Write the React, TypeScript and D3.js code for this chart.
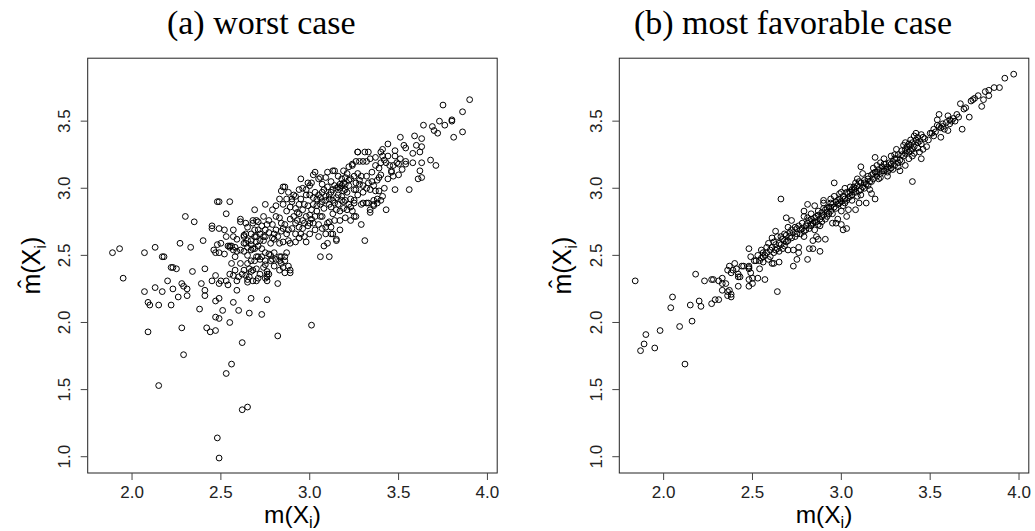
import React from "react";
import * as d3 from "d3";

// ---------- data ----------
const worstX_Y: [number, number][] = [
  [1.89,2.52],[1.93,2.55],[1.95,2.33],[2.07,2.52],[2.07,2.23],[2.09,2.15],[2.10,2.13],[2.09,1.93],[2.13,2.56],[2.13,2.26],
  [2.15,2.13],[2.17,2.23],[2.17,2.49],[2.18,2.49],[2.15,1.53],[2.20,2.31],[2.22,2.13],[2.22,2.41],[2.23,2.41],[2.23,2.25],
  [2.25,2.40],[2.26,2.19],[2.27,2.59],[2.28,1.96],[2.28,2.29],[2.29,1.76],[2.29,2.27],[2.30,2.79],[2.31,2.20],[2.31,2.25],
  [2.33,2.56],[2.34,2.38],[2.35,2.75],[2.38,2.10],[2.39,2.29],[2.40,2.61],[2.41,2.40],[2.41,2.24],[2.41,2.20],[2.42,1.96],
  [2.44,1.93],[2.45,2.31],[2.45,2.72],[2.45,2.70],[2.46,2.54],[2.47,2.16],[2.47,2.04],[2.47,1.94],[2.47,2.35],[2.48,1.14],
  [2.48,2.58],[2.48,2.90],[2.49,2.90],[2.49,2.70],[2.49,2.18],[2.49,2.03],[2.49,0.99],[2.49,2.52],[2.49,2.29],[2.51,2.09],
  [2.52,2.69],[2.53,2.31],[2.53,2.81],[2.53,1.62],[2.54,2.28],[2.55,2.00],[2.55,2.90],[2.56,1.69],[2.57,2.15],[2.57,2.69],
  [2.56,2.57],[2.56,2.44],[2.58,2.49],[2.59,2.24],[2.59,2.62],[2.60,2.34],[2.60,2.09],[2.61,2.77],[2.61,2.75],[2.62,1.85],
  [2.62,1.35],[2.65,1.37],[2.66,2.07],[2.67,2.18],[2.69,2.84],[2.73,2.06],[2.75,2.88],[2.76,2.17],[2.82,1.90],[2.82,2.29],
  [2.89,2.37],[2.95,3.07],[3.01,1.98],[3.06,2.49],[3.11,2.49],[3.15,2.61],[3.31,2.61],[3.29,2.73],[3.43,2.84],[3.48,2.99],
  [3.56,2.99],[3.75,3.62],[3.90,3.66],[3.86,3.57],[3.80,3.51],[3.80,3.50],[3.73,3.50],[3.69,3.46],[3.76,3.47],[3.64,3.47],
  [3.70,3.43],[3.72,3.41],[3.81,3.38],[3.86,3.42],[3.68,3.21],[3.71,3.17],[3.59,3.39],[3.63,3.37],[3.51,3.38],[3.44,3.33],
  [3.60,3.32],[3.53,3.32],[3.54,3.30],[3.63,3.31],[3.62,3.27],[3.58,3.26],[3.63,3.19],[3.58,3.19],[3.54,3.18],[3.50,3.18],
  [3.48,3.28],[3.48,3.24],[3.62,3.13],[3.61,3.07],[3.63,3.08],[3.31,3.27],[3.33,3.27],[3.27,3.27],[3.34,3.22],
  [3.03,3.12],[3.09,3.08],[3.10,3.12],[3.13,3.13],[3.14,3.13],[3.19,3.13],[3.24,3.17],[3.24,3.18],[3.28,3.20],[3.30,3.20],
  [3.32,3.20],[3.37,3.17],[3.39,3.15],[3.41,3.24],[3.42,3.21],[3.43,3.19],[3.45,3.17],[3.46,3.13],[3.46,3.12],[3.40,3.10],
  [3.39,3.08],[3.38,3.06],[3.35,3.12],[3.32,3.09],[3.29,3.09],[3.27,3.11],[3.25,3.09],[3.23,3.07],[3.21,3.11],[3.18,3.07],
  [3.16,3.09],[3.06,3.08],[3.05,3.07],[3.01,3.04],[3.00,3.02],[2.98,2.99],[2.98,2.95],[2.94,2.99],[2.91,2.95],[2.90,2.92],
  [2.87,2.92],[2.85,3.01],[2.86,3.01],[2.84,2.98],[2.83,2.92],[2.81,2.87],[2.79,2.84],[2.85,2.88],
  [3.07,2.97],[3.09,2.94],[3.11,2.95],[3.13,2.99],[3.15,3.00],[3.17,3.03],[3.19,3.04],[3.20,2.99],[3.21,2.97],[3.22,3.02],
  [3.25,2.99],[3.26,2.99],[3.28,3.03],[3.30,3.02],[3.32,3.00],[3.34,2.99],[3.36,3.02],[3.37,2.98],[3.39,2.98],[3.32,2.89],
  [3.33,2.89],[3.36,2.88],[3.34,2.84],[3.29,2.88],[3.25,2.89],[3.23,2.92],[3.22,2.88],[3.21,2.84],[3.19,2.85],[3.17,2.83],
  [3.15,2.84],[3.13,2.81],[3.11,2.88],[3.09,2.91],[3.07,2.90],[3.06,2.88],[3.04,2.87],[3.02,2.88],[3.01,2.84],[3.00,2.80],
  [2.98,2.79],[2.96,2.76],[2.94,2.81],[2.93,2.76],[2.92,2.74],[2.90,2.70],[2.88,2.69],[2.87,2.66],[2.85,2.70],[2.84,2.74],
  [2.83,2.78],[2.81,2.69],[2.80,2.66],[2.79,2.73],[2.77,2.76],[2.76,2.73],[2.75,2.69],[2.74,2.64],[2.72,2.66],[2.70,2.64],
  [2.69,2.69],[2.68,2.74],[2.67,2.66],[2.65,2.61],[2.64,2.66],[2.63,2.64],[2.63,2.59],[2.61,2.54],[2.59,2.53],[2.58,2.56],
  [2.63,2.53],[2.65,2.50],[2.67,2.54],[2.69,2.55],[2.71,2.57],[2.73,2.55],[2.75,2.52],[2.77,2.51],[2.78,2.46],[2.75,2.46],
  [2.74,2.41],[2.72,2.36],[2.70,2.40],[2.68,2.39],[2.66,2.34],[2.65,2.30],[2.68,2.31],[2.71,2.33],[2.76,2.34],[2.77,2.36],
  [2.80,2.42],[2.83,2.49],[2.86,2.46],[2.88,2.42],[2.84,2.44],[2.87,2.52],[2.89,2.59],[2.92,2.60],[2.94,2.63],[2.95,2.66],
  [2.97,2.64],[2.98,2.60],[3.00,2.66],[3.03,2.69],[3.05,2.73],[3.07,2.70],[3.09,2.66],[3.10,2.74],[3.12,2.71],[3.13,2.66],
  [3.08,2.57],[3.10,2.59],[3.05,2.64],[3.02,2.74],[3.00,2.74],[2.97,2.74],[2.94,2.71],[2.92,2.66],[2.88,2.61],[2.85,2.60],
  [2.83,2.59],[2.80,2.62],[2.78,2.59],[2.74,2.61],[2.70,2.60],[2.67,2.61],[2.65,2.71],[2.64,2.74],[2.68,2.76],[2.71,2.75],
  [2.73,2.72],[2.74,2.79],[2.81,2.79],[2.87,2.83],[2.89,2.86],[2.92,2.85],[2.94,2.88],[2.95,2.92],[2.97,2.88],[3.00,2.95],
  [3.02,2.93],[3.04,2.92],[3.06,2.93],[3.16,2.95],[3.18,2.94],[3.20,2.91],[3.25,2.91],[3.13,2.91],[3.14,2.89],[3.16,2.88],
  [3.18,2.91],[3.23,2.86],[3.24,2.83],[3.26,2.79],[3.23,2.76],[3.20,2.78],[3.17,2.76],[3.14,2.76],[3.11,2.75],[3.09,2.71],
  [3.07,2.79],[3.06,2.79],[3.03,2.79],[3.36,2.91],[3.38,2.92],[3.40,2.91],[3.41,2.94],[3.42,3.00],[3.44,3.07],[3.47,3.09],
  [3.50,3.10],[3.52,3.14],[3.54,3.20],[3.51,3.22],[3.49,3.19],[3.47,3.17],[3.44,3.24],[3.40,3.19],[3.37,3.23],[3.40,3.27],
  [3.41,3.29],
  [2.63,2.39],[2.65,2.44],[2.67,2.46],[2.61,2.44],[2.58,2.39],[2.57,2.35],[2.59,2.31],[2.62,2.36],[2.64,2.35],[2.69,2.46],
  [2.71,2.49],[2.73,2.49],[2.76,2.38],[2.81,2.47],[2.85,2.41],[2.86,2.37],[2.89,2.39],[2.52,2.51],[2.55,2.56],[2.57,2.64],
  [2.53,2.64],[2.50,2.59],[2.47,2.52],[2.55,2.36],[2.50,2.31],[2.54,2.57],[2.55,2.57],[2.57,2.54],[2.63,2.65],[2.64,2.59],
  [2.65,2.56],[2.67,2.58],[2.68,2.55],[2.69,2.64],[2.70,2.76],[2.70,2.49],[2.65,2.32],[2.66,2.40],[2.67,2.38],[2.70,2.31],
  [2.72,2.47],[2.75,2.43],[2.76,2.36],[2.76,2.31],[2.75,2.33],[2.78,2.50],[2.79,2.47],[2.80,2.52],[2.83,2.46],[2.84,2.49],
  [2.83,2.39],[2.86,2.49],[3.15,2.62],[3.12,2.66],[3.17,2.69],[3.25,2.79],[3.34,2.82],[3.36,2.87],[3.38,2.89],[3.30,2.89],
  [3.22,3.16],[3.26,3.20],[3.27,3.27],
  [3.17,3.00],[3.18,3.02],[3.19,2.98],[3.16,3.01],[3.20,3.03],[3.12,2.97],[3.14,3.02],[3.08,2.99],[3.10,3.01],[3.11,2.92],
  [3.15,2.93],[3.05,2.95],[3.03,2.97],[2.99,2.87],[2.96,2.84],[2.93,2.82],[2.91,2.79],[2.89,2.77],[2.86,2.73],[2.84,2.68],
  [2.82,2.64],[2.79,2.63],[2.77,2.67],[2.75,2.64],[2.72,2.61],[2.71,2.69],[2.96,2.70],[2.99,2.72],[3.01,2.77],[3.04,2.83],
  [3.08,2.85],[3.12,2.86],[3.19,2.90],[3.27,2.95],[3.30,2.97],[3.35,3.05],[3.33,3.04],[3.28,3.06],[3.26,3.04],[3.22,3.06],
  [3.20,3.08],[3.12,3.05],[3.07,3.03],[2.88,2.97],[2.92,2.94],[2.96,3.00],[2.99,3.04],[3.02,3.10],[2.90,2.90],
];

const favorableX_Y: [number, number][] = [
  [1.84,2.31],[1.87,1.79],[1.89,1.84],[1.90,1.91],[1.95,1.81],[1.98,1.94],[2.04,2.11],[2.05,2.19],[2.09,1.97],[2.12,1.69],
  [2.15,2.13],[2.16,2.01],[2.18,2.36],[2.20,2.16],[2.21,2.12],[2.23,2.31],[2.27,2.14],[2.27,2.32],[2.28,2.32],[2.29,2.17],
  [2.31,2.17],[2.31,2.31],[2.33,2.33],[2.33,2.29],[2.33,2.24],[2.35,2.29],[2.36,2.23],[2.36,2.20],[2.37,2.24],[2.38,2.21],
  [2.38,2.19],[2.36,2.39],[2.37,2.42],[2.38,2.37],[2.39,2.39],[2.40,2.44],[2.41,2.40],[2.42,2.36],[2.43,2.34],[2.42,2.34],
  [2.42,2.27],[2.44,2.42],[2.45,2.42],[2.48,2.40],[2.48,2.41],[2.48,2.42],[2.48,2.55],[2.48,2.27],[2.48,2.32],[2.49,2.37],
  [2.50,2.29],[2.49,2.49],[2.50,2.33],[2.53,2.33],[2.54,2.40],[2.57,2.32],[2.51,2.46],[2.52,2.46],[2.54,2.46],[2.55,2.54],
  [2.56,2.52],[2.56,2.49],[2.56,2.45],[2.58,2.56],[2.59,2.59],[2.60,2.54],[2.61,2.63],[2.62,2.60],[2.61,2.44],[2.62,2.44],
  [2.63,2.54],[2.64,2.23],[2.63,2.68],[2.64,2.64],[2.65,2.45],[2.65,2.59],[2.66,2.64],[2.66,2.92],[2.68,2.61],[2.68,2.66],
  [2.69,2.78],[2.69,2.60],[2.70,2.54],[2.70,2.71],[2.71,2.64],[2.72,2.69],[2.72,2.76],[2.73,2.54],[2.73,2.42],[2.74,2.64],
  [2.75,2.70],[2.75,2.47],[2.76,2.52],[2.76,2.56],[2.77,2.66],[2.78,2.74],[2.79,2.79],[2.79,2.83],[2.79,2.64],[2.80,2.69],
  [2.81,2.88],[2.81,2.47],[2.82,2.55],[2.82,2.76],[2.83,2.81],[2.83,2.73],[2.84,2.55],[2.84,2.61],[2.85,2.69],[2.85,2.87],
  [2.86,2.64],[2.86,2.79],[2.87,2.62],[2.87,2.83],[2.88,2.53],[2.88,2.72],[2.89,2.79],[2.90,2.89],[2.90,2.91],[2.91,2.62],
  [2.91,2.77],[2.92,2.85],[2.93,2.81],[2.94,2.86],[2.94,2.89],[2.95,2.74],[2.96,3.04],[2.96,2.94],[2.97,2.74],[2.98,2.77],
  [2.98,2.91],[2.99,2.96],[3.00,2.83],[3.00,2.73],[3.01,2.69],[3.02,3.00],[3.02,2.89],[3.03,2.79],[3.03,2.70],[3.04,2.84],
  [3.04,2.96],[3.05,3.01],[3.06,2.91],[3.07,2.99],[3.08,3.04],[3.08,2.84],[3.09,2.94],[3.09,3.07],[3.10,2.89],[3.11,3.16],
  [3.11,2.99],[3.12,3.11],[3.13,3.04],[3.14,2.89],[3.15,3.09],[3.16,2.99],[3.17,2.96],[3.18,3.11],[3.19,2.92],[3.19,3.23],
  [3.20,3.17],[3.21,3.07],[3.22,3.19],[3.23,3.13],[3.24,3.22],[3.25,3.14],[3.25,3.18],[3.26,3.09],[3.27,3.19],[3.28,3.24],
  [3.29,3.14],[3.30,3.22],[3.31,3.29],[3.32,3.19],[3.33,3.13],[3.34,3.25],[3.35,3.32],[3.36,3.17],[3.36,3.34],[3.37,3.28],
  [3.38,3.22],[3.39,3.36],[3.40,3.29],[3.40,3.05],[3.40,3.24],[3.41,3.39],[3.42,3.41],[3.43,3.34],[3.44,3.27],[3.45,3.22],
  [3.46,3.38],[3.48,3.31],[3.50,3.41],[3.51,3.41],[3.52,3.39],[3.54,3.47],[3.54,3.51],[3.55,3.55],[3.56,3.38],[3.56,3.45],
  [3.57,3.46],[3.59,3.49],[3.60,3.43],[3.60,3.54],[3.61,3.51],[3.63,3.52],[3.66,3.53],[3.67,3.63],[3.68,3.44],[3.69,3.59],
  [3.70,3.60],[3.72,3.53],[3.73,3.65],[3.74,3.66],[3.75,3.67],[3.77,3.69],[3.79,3.61],[3.80,3.66],[3.81,3.72],[3.83,3.69],
  [3.83,3.73],[3.86,3.75],[3.89,3.75],[3.92,3.82],[3.97,3.85],
  [2.78,2.70],[2.80,2.72],[2.81,2.74],[2.82,2.70],[2.83,2.77],[2.84,2.74],[2.85,2.78],[2.86,2.75],[2.87,2.80],[2.88,2.77],
  [2.89,2.82],[2.90,2.80],[2.91,2.84],[2.92,2.82],[2.93,2.86],[2.94,2.83],[2.95,2.88],[2.96,2.86],[2.97,2.90],[2.98,2.88],
  [2.99,2.92],[3.00,2.90],[3.01,2.94],[3.02,2.92],[3.03,2.97],[3.04,2.93],[3.05,2.97],[3.06,2.95],[3.07,3.01],[3.08,2.97],
  [3.09,3.02],[3.10,2.98],[3.11,3.04],[3.12,3.01],[3.13,3.06],[3.14,3.03],[3.15,3.07],[3.16,3.05],[3.17,3.10],[3.18,3.07],
  [3.19,3.12],[3.20,3.09],[3.21,3.14],[3.22,3.11],[3.23,3.16],[3.24,3.13],[3.26,3.16],[3.27,3.14],[3.28,3.18],[3.29,3.20],
  [3.30,3.17],[3.31,3.22],[3.32,3.25],[3.33,3.21],[3.34,3.28],[3.35,3.24],[3.36,3.29],[3.37,3.31],[3.38,3.27],[3.39,3.32],
  [3.40,3.34],[3.41,3.31],[3.42,3.36],[3.43,3.38],[3.44,3.35],[3.45,3.33],[3.47,3.37],[3.49,3.36],
  [2.79,2.68],[2.81,2.78],[2.83,2.72],[2.85,2.75],[2.87,2.73],[2.89,2.75],[2.90,2.85],[2.92,2.79],[2.94,2.92],[2.95,2.81],
  [2.97,2.85],[2.99,2.89],[3.00,2.97],[3.01,2.87],[3.03,2.91],[3.05,2.94],[3.06,2.99],[3.08,3.00],[3.10,3.05],[3.11,2.95],
  [3.13,3.00],[3.15,3.02],[3.17,3.05],[3.18,3.15],[3.20,3.12],[3.22,3.08],[3.24,3.18],[3.26,3.12],[3.28,3.15],[3.30,3.25],
  [3.32,3.16],[3.34,3.20],[3.36,3.26],[3.38,3.33],[3.39,3.28],[3.41,3.26],[3.43,3.30],[3.45,3.40],[3.46,3.29],
  [2.55,2.48],[2.57,2.50],[2.58,2.52],[2.60,2.49],[2.61,2.56],[2.62,2.52],[2.63,2.58],[2.64,2.55],[2.66,2.58],[2.67,2.62],
  [2.68,2.57],[2.69,2.65],[2.70,2.61],[2.71,2.67],[2.72,2.63],[2.73,2.67],[2.74,2.71],[2.75,2.66],[2.76,2.72],[2.77,2.69],
  [2.53,2.50],[2.59,2.47],[2.65,2.53],[2.67,2.55],
  [3.52,3.44],[3.53,3.42],[3.55,3.46],[3.57,3.48],[3.58,3.44],[3.61,3.48],[3.62,3.50],[3.64,3.50],[3.65,3.55],
];

const panelTitles = ["(a) worst case", "(b) most favorable case"];
const xTicks = [2.0, 2.5, 3.0, 3.5, 4.0];
const yTicks = [1.0, 1.5, 2.0, 2.5, 3.0, 3.5];
const xDomain: [number, number] = [1.7505, 4.055];
const yDomain: [number, number] = [0.8786, 3.969];

// ---------- layout ----------
const W = 1035;
const H = 531;
const TOP = 58.2;
const BOTTOM = 473;
const PW = 409.5;
const panels = [
  { left: 87.7, titleX: 261.3, data: worstX_Y },
  { left: 619.3, titleX: 793, data: favorableX_Y },
];

const sans = "'Liberation Sans', Arial, Helvetica, sans-serif";
const serif = "'Liberation Serif', 'Times New Roman', serif";

function Panel({ left, titleX, data, title }: { left: number; titleX: number; data: [number, number][]; title: string }) {
  const x = d3.scaleLinear().domain(xDomain).range([left, left + PW]);
  const y = d3.scaleLinear().domain(yDomain).range([BOTTOM, TOP]);
  const cx = left + PW / 2;
  const cy = (TOP + BOTTOM) / 2;
  return (
    <g>
      <text x={titleX} y={33.5} textAnchor="middle" fontFamily={serif} fontSize={34} fill="#000">
        {title}
      </text>
      <rect x={left} y={TOP} width={PW} height={BOTTOM - TOP} fill="none" stroke="#222" strokeWidth={1} />
      {xTicks.map((t) => (
        <g key={"x" + t}>
          <line x1={x(t)} x2={x(t)} y1={BOTTOM} y2={BOTTOM + 7} stroke="#444" strokeWidth={1} />
          <text x={x(t)} y={498} textAnchor="middle" fontFamily={sans} fontSize={17} fill="#222">
            {t.toFixed(1)}
          </text>
        </g>
      ))}
      {yTicks.map((t) => (
        <g key={"y" + t}>
          <line x1={left - 7} x2={left} y1={y(t)} y2={y(t)} stroke="#444" strokeWidth={1} />
          <text
            transform={`translate(${left - 17.5},${y(t)}) rotate(-90)`}
            textAnchor="middle"
            fontFamily={sans}
            fontSize={17}
            fill="#222"
          >
            {t.toFixed(1)}
          </text>
        </g>
      ))}
      {data.map((d, i) => (
        <circle key={i} cx={x(d[0])} cy={y(d[1])} r={2.9} fill="none" stroke="#000" strokeWidth={1} />
      ))}
      <text x={cx} y={523} textAnchor="middle" fontFamily={sans} fontSize={24.5} fill="#000">
        m(X<tspan dy={5} fontSize={16.5}>i</tspan><tspan dy={-5}>)</tspan>
      </text>
      <text
        transform={`translate(${left - 48},${cy}) rotate(-90)`}
        textAnchor="middle"
        fontFamily={sans}
        fontSize={25}
        fill="#000"
      >
        {"m\u0302(X"}<tspan dy={6} fontSize={17}>i</tspan><tspan dy={-6}>)</tspan>
      </text>
    </g>
  );
}

export default function App() {
  return (
    <svg
      width={W}
      height={H}
      viewBox={`0 0 ${W} ${H}`}
      style={{ position: "absolute", left: 0, top: 0, background: "#fff" }}
    >
      <rect x={0} y={0} width={W} height={H} fill="#fff" />
      {panels.map((p, i) => (
        <Panel key={i} left={p.left} titleX={p.titleX} data={p.data} title={panelTitles[i]} />
      ))}
    </svg>
  );
}
